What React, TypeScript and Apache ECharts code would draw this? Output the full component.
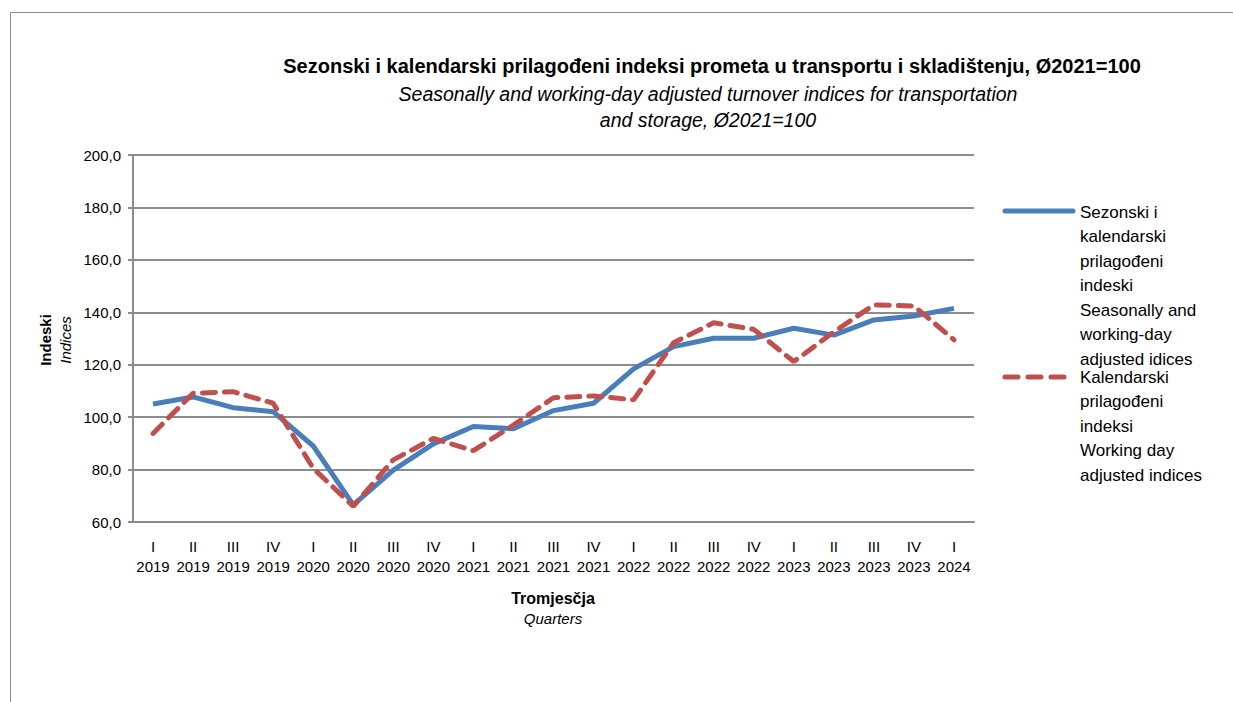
import React, { useEffect, useRef } from "react";
import * as echarts from "echarts";

const quarters = ["I","II","III","IV","I","II","III","IV","I","II","III","IV","I","II","III","IV","I","II","III","IV","I"];
const years = ["2019","2019","2019","2019","2020","2020","2020","2020","2021","2021","2021","2021","2022","2022","2022","2022","2023","2023","2023","2023","2024"];
const seasonal = [105.0,107.7,103.6,102.1,89.0,66.5,79.8,89.8,96.4,95.6,102.5,105.3,118.4,126.9,130.1,130.1,133.9,131.3,137.1,138.6,141.5];
const calendar = [93.8,109.1,109.7,105.3,80.5,66.0,83.7,91.9,87.2,97.0,107.4,108.1,106.6,128.4,136.0,133.5,121.2,132.5,142.8,142.4,129.5];
const seriesNames = [
  "Sezonski i kalendarski prilagođeni indeksi Seasonally and working-day adjusted idices",
  "Kalendarski prilagođeni indeksi Working day adjusted indices",
];
const legendLines1 = ["Sezonski i","kalendarski","prilagođeni","indeski","Seasonally and","working-day","adjusted idices"];
const legendLines2 = ["Kalendarski","prilagođeni","indeksi","Working day","adjusted indices"];

const FONT = "'Liberation Sans', Arial, sans-serif";
const BLUE = "#4a7ebb";
const RED = "#c0504d";

export default function App() {
  const ref = useRef<HTMLDivElement>(null);
  useEffect(() => {
    const chart = echarts.init(ref.current!, null, { renderer: "svg" });
    const cats = quarters.map((q, i) => q + "\n" + years[i]);
    const lh = 24.5;
    const graphics: any[] = [
      { type: "rect", shape: { x: 10.5, y: 12.5, width: 1240, height: 720 }, style: { fill: "none", stroke: "#8c8c8c", lineWidth: 1 }, silent: true },
      { type: "text", x: 712, y: 66, style: { text: "Sezonski i kalendarski prilagođeni indeksi prometa u transportu i skladištenju, Ø2021=100", font: `bold 20px ${FONT}`, fill: "#000", align: "center", verticalAlign: "middle" } },
      { type: "text", x: 708, y: 94, style: { text: "Seasonally and working-day adjusted turnover indices for transportation", font: `italic 19.5px ${FONT}`, fill: "#000", align: "center", verticalAlign: "middle" } },
      { type: "text", x: 708, y: 120, style: { text: "and storage, Ø2021=100", font: `italic 19.5px ${FONT}`, fill: "#000", align: "center", verticalAlign: "middle" } },
      { type: "text", x: 45, y: 340, rotation: Math.PI / 2, style: { text: "Indeski", font: `bold 15px ${FONT}`, fill: "#000", align: "center", verticalAlign: "middle" } },
      { type: "text", x: 65, y: 340, rotation: Math.PI / 2, style: { text: "Indices", font: `italic 15px ${FONT}`, fill: "#000", align: "center", verticalAlign: "middle" } },
      { type: "text", x: 553, y: 598, style: { text: "Tromjesčja", font: `bold 16px ${FONT}`, fill: "#000", align: "center", verticalAlign: "middle" } },
      { type: "text", x: 553, y: 618, style: { text: "Quarters", font: `italic 15px ${FONT}`, fill: "#000", align: "center", verticalAlign: "middle" } },
      { type: "line", shape: { x1: 1005, y1: 211, x2: 1073, y2: 211 }, style: { stroke: BLUE, lineWidth: 5, lineCap: "round" } },
      { type: "line", shape: { x1: 1005, y1: 377, x2: 1073, y2: 377 }, style: { stroke: RED, lineWidth: 5, lineCap: "round", lineDash: [13, 10] } },
    ];
    legendLines1.forEach((t, i) => graphics.push({ type: "text", x: 1080, y: 212 + i * lh, style: { text: t, font: `17px ${FONT}`, fill: "#000", verticalAlign: "middle" } }));
    legendLines2.forEach((t, i) => graphics.push({ type: "text", x: 1080, y: 377 + i * lh, style: { text: t, font: `17px ${FONT}`, fill: "#000", verticalAlign: "middle" } }));

    chart.setOption({
      animation: false,
      grid: { left: 133, top: 155, right: 259, bottom: 180, containLabel: false },
      xAxis: {
        type: "category",
        data: cats,
        boundaryGap: true,
        axisLine: { lineStyle: { color: "#8c8c8c", width: 2 } },
        axisTick: { show: false },
        axisLabel: { interval: 0, color: "#000", fontFamily: FONT, fontSize: 15, lineHeight: 20, margin: 14 },
      },
      yAxis: {
        type: "value",
        min: 60,
        max: 200,
        interval: 20,
        axisLine: { show: true, lineStyle: { color: "#8c8c8c", width: 2 } },
        axisTick: { show: true, length: 5, lineStyle: { color: "#8c8c8c", width: 2 } },
        axisLabel: { color: "#000", fontFamily: FONT, fontSize: 15, margin: 12, formatter: (v: number) => v.toFixed(1).replace(".", ",") },
        splitLine: { lineStyle: { color: "#8c8c8c", width: 2 } },
      },
      series: [
        { name: seriesNames[0], type: "line", data: seasonal, symbol: "none", lineStyle: { color: BLUE, width: 5 }, itemStyle: { color: BLUE }, z: 3 },
        { name: seriesNames[1], type: "line", data: calendar, symbol: "none", lineStyle: { color: RED, width: 5, type: [13, 9], cap: "round" }, itemStyle: { color: RED }, z: 4 },
      ],
      graphic: graphics,
    });
    return () => chart.dispose();
  }, []);
  return <div ref={ref} style={{ width: 1233, height: 702, position: "absolute", left: 0, top: 0 }} />;
}
